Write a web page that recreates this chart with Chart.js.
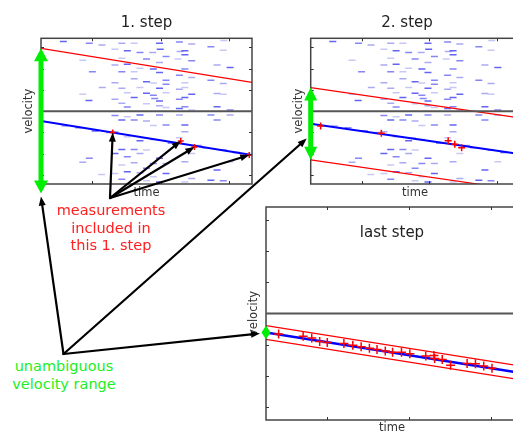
<!DOCTYPE html>
<html>
<head>
<meta charset="utf-8">
<script src="https://cdn.jsdelivr.net/npm/chart.js@4"></script>
<style>
    html, body { margin: 0; padding: 0; background: #fff; width: 513px; height: 432px; overflow: hidden; }
    body { position: relative; font-family: "DejaVu Sans", sans-serif; }
    canvas { position: absolute; }
    .note { position: absolute; text-align: center; font-size: 14.5px; line-height: 17.6px; white-space: nowrap; }
</style>
</head>
<body>
<canvas id="chartStep1" width="260" height="205" style="left:0px;top:0px"></canvas>
<canvas id="chartStep2" width="245" height="205" style="left:280px;top:0px"></canvas>
<canvas id="chartLast" width="280" height="240" style="left:244px;top:200px"></canvas>
<div class="note" style="left:31px;top:202px;width:160px;color:#ff2020">measurements<br>included in<br>this 1. step</div>
<div class="note" style="left:-16px;top:358px;width:160px;color:#22ee22">unambiguous<br>velocity range</div>
<canvas id="arrows" width="513" height="432" style="left:0px;top:0px;pointer-events:none"></canvas>
<script>
// ================================
// Data
// ================================
const T_MAX = 308;
const V_MAX = 3.43;
const timeTicks = [75, 175, 275];
const velTicks = [-3, -2, -1, 1, 2, 3];

// raw (folded) measurements: time / velocity
const measT = [
    32.6, 70.5, 89, 61, 75, 89.5, 61, 70,
    118, 136, 173, 202, 108, 126, 144.5, 163, 174, 182.5, 203,
    118, 154, 173, 200, 126, 108, 144.5, 164, 118, 136, 173, 202,
    136, 154, 182.5, 108, 164, 182.5, 118, 144.5, 173, 202,
    126, 154, 164, 182.5, 136, 166, 108, 173, 202, 118, 154, 126, 173, 182.5, 202,
    220, 267, 210, 248, 266, 210, 220, 257, 276, 210, 220, 210, 248, 266, 210,
    220, 257, 266, 210, 210, 220, 257, 276,
    35, 79, 70.5, 61, 88.6, 55, 100, 150, 190, 230, 240, 285,
    108, 126, 144.5, 173, 202, 118, 136, 154, 164, 182.5, 108, 126, 144.5, 164, 202,
    118, 136, 154, 108, 126, 144.5, 173, 164, 136, 118, 154, 182.5,
    108, 126, 144.5, 164, 182.5, 118, 154, 173,
    248, 276, 210, 257, 210, 220, 266, 210, 276, 257, 220, 210, 248, 266
];
const measV = [
    3.28, 3.20, 3.11, 2.40, 1.85, 1.11, 0.80, 0.50,
    3.20, 3.20, 3.20, 3.26, 2.92, 2.84, 2.76, 2.76, 2.92, 2.57, 2.81,
    2.49, 2.45, 2.29, 2.45, 2.21, 2.17, 2.02, 1.98, 1.86, 1.86, 1.82, 1.69,
    1.53, 1.39, 1.46, 1.34, 1.32, 1.27, 1.08, 1.11, 1.08, 1.03,
    0.87, 0.84, 0.75, 0.87, 0.64, 0.60, 0.56, 0.48, 0.56, 0.37, 0.35, 0.20, 0.25, 0.17, 0.12,
    3.16, 3.33, 2.84, 3.03, 2.87, 2.65, 2.37, 2.17, 2.05, 1.98, 1.58, 1.34, 1.46, 1.30, 1.11,
    0.80, 0.83, 0.80, 0.64, 0.21, 0.06, 0.21, 0.06,
    -0.70, -0.93, -2.22, -2.41, -2.98, -0.78, -1.00, -1.25, -1.50, -1.62, -1.75, -1.95,
    -0.21, -0.26, -0.18, -0.18, -0.18, -0.42, -0.42, -0.46, -0.68, -0.65, -0.97, -1.20, -1.39, -1.33, -1.25,
    -1.80, -1.80, -1.83, -1.99, -2.15, -1.99, -2.22, -2.46, -2.43, -2.54, -2.69, -2.46,
    -2.93, -2.85, -2.90, -3.09, -2.93, -3.21, -3.28, -3.33,
    -0.18, -0.18, -0.65, -0.42, -0.97, -1.99, -1.83, -2.38, -2.38, -2.77, -3.17, -3.33, -3.25, -3.28
];

// measurements picked up (unfolded) in each step
const step1T = [104.7, 204, 224, 304];
const step1V = [-1.01, -1.40, -1.69, -2.07];
const step2T = [14.6, 104.2, 202.8, 212.5, 222.7];
const step2V = [-0.70, -1.04, -1.39, -1.56, -1.72];
const lastT = [15.4, 45.4, 55.9, 65.6, 74.9, 95.2, 106.1, 116.3, 126.4, 135.7, 145.8, 154.7,
    165.6, 175.8, 195.2, 205.3, 206.1, 215.4, 225.6, 245.8, 256, 266.1, 276.2];
const lastV = [-0.66, -0.73, -0.79, -0.90, -0.93, -0.97, -1.02, -1.07, -1.12, -1.16, -1.21, -1.25,
    -1.25, -1.30, -1.37, -1.35, -1.45, -1.48, -1.67, -1.61, -1.62, -1.69, -1.76];

// fitted velocity line per step (at t=0 and t=T_MAX) and half of the window
const fitStart = [-0.46, -0.59, -0.61];
const fitEnd = [-2.07, -2.02, -1.90];
const halfWindow = [3.42, 1.70, 0.22];

// ================================
// Styles
// ================================
Chart.defaults.font.family = '"DejaVu Sans", sans-serif';
const dashShades = ['#6464f2', '#8686f4', '#aaaaf2', '#c8c8f4'];
const green = '#00ee00';

const pts = (ts, vs) => ts.map((t, i) => ({ x: t, y: vs[i] }));
const seg = (a, b) => [{ x: 0, y: a }, { x: T_MAX, y: b }];

// frame, zero line and inward ticks
const framePlugin = {
    id: 'frame',
    afterDatasetsDraw(chart) {
        const { ctx, chartArea: a, scales: { x, y } } = chart;
        ctx.save();
        ctx.strokeStyle = '#444';
        ctx.lineWidth = 1.5;
        ctx.strokeRect(a.left, a.top, a.right - a.left, a.bottom - a.top);
        const y0 = y.getPixelForValue(0);
        ctx.strokeStyle = '#555';
        ctx.lineWidth = 2;
        ctx.beginPath(); ctx.moveTo(a.left, y0); ctx.lineTo(a.right, y0); ctx.stroke();
        ctx.strokeStyle = '#333';
        ctx.lineWidth = 1;
        ctx.beginPath();
        timeTicks.forEach(t => {
            const px = Math.round(x.getPixelForValue(t)) + 0.5;
            ctx.moveTo(px, a.top); ctx.lineTo(px, a.top + 3);
            ctx.moveTo(px, a.bottom); ctx.lineTo(px, a.bottom - 3);
        });
        velTicks.forEach(v => {
            const py = Math.round(y.getPixelForValue(v)) + 0.5;
            ctx.moveTo(a.left, py); ctx.lineTo(a.left + 3, py);
            ctx.moveTo(a.right, py); ctx.lineTo(a.right - 3, py);
        });
        ctx.stroke();
        ctx.restore();
    }
};

// green double arrow = unambiguous velocity range at t=0
const rangePlugin = {
    id: 'range',
    afterDatasetsDraw(chart, args, opts) {
        const { ctx, scales: { x, y } } = chart;
        const s = opts.step;
        const px = x.getPixelForValue(0);
        const yTop = y.getPixelForValue(fitStart[s] + halfWindow[s]);
        const yBot = y.getPixelForValue(fitStart[s] - halfWindow[s]);
        const head = Math.min(13, (yBot - yTop) / 2);
        const hw = opts.headWidth;
        ctx.save();
        ctx.fillStyle = green;
        ctx.fillRect(px - 2.5, yTop + head - 1, 5, yBot - yTop - 2 * head + 2);
        ctx.beginPath();
        ctx.moveTo(px, yTop); ctx.lineTo(px + hw / 2, yTop + head); ctx.lineTo(px - hw / 2, yTop + head);
        ctx.closePath();
        ctx.moveTo(px, yBot); ctx.lineTo(px + hw / 2, yBot - head); ctx.lineTo(px - hw / 2, yBot - head);
        ctx.closePath();
        ctx.fill();
        ctx.restore();
    }
};

const innerTitlePlugin = {
    id: 'innerTitle',
    afterDraw(chart, args, opts) {
        if (!opts.text) return;
        const { ctx, chartArea: a } = chart;
        ctx.save();
        ctx.font = '15px "DejaVu Sans"';
        ctx.fillStyle = '#222';
        ctx.textAlign = 'center';
        ctx.textBaseline = 'middle';
        ctx.fillText(opts.text, (a.left + a.right) / 2, a.top + 26);
        ctx.restore();
    }
};

function makeChart(id, step, picked, cfg) {
    const datasets = [
        {
            data: picked,
            pointStyle: 'cross',
            pointRadius: cfg.crossR,
            borderColor: '#ff0000',
            borderWidth: 1.5
        },
        {
            data: seg(fitStart[step], fitEnd[step]),
            showLine: true, pointRadius: 0,
            borderColor: '#0000ff', borderWidth: cfg.blueW
        },
        {
            data: seg(fitStart[step] + halfWindow[step], fitEnd[step] + halfWindow[step]),
            showLine: true, pointRadius: 0,
            borderColor: '#ff0000', borderWidth: 1.2
        },
        {
            data: seg(fitStart[step] - halfWindow[step], fitEnd[step] - halfWindow[step]),
            showLine: true, pointRadius: 0,
            borderColor: '#ff0000', borderWidth: 1.2
        }
    ];
    if (cfg.showRaw) {
        datasets.push({
            data: pts(measT, measV),
            pointStyle: 'line',
            pointRadius: 3.5,
            borderWidth: 1.5,
            borderColor: ctx => dashShades[(ctx.dataIndex * 5 + (ctx.dataIndex >> 2)) % 4]
        });
    }
    return new Chart(document.getElementById(id), {
        type: 'scatter',
        data: { datasets },
        plugins: [framePlugin, rangePlugin, innerTitlePlugin],
        options: {
            responsive: false,
            animation: false,
            events: [],
            layout: { padding: cfg.padding },
            plugins: {
                legend: { display: false },
                tooltip: { enabled: false },
                title: {
                    display: !!cfg.title,
                    text: cfg.title,
                    fullSize: cfg.titleFull,
                    color: '#222',
                    font: { size: 15, weight: 'normal', lineHeight: 1.2 },
                    padding: { top: 0, bottom: 6.3 }
                },
                range: { step, headWidth: cfg.headW },
                innerTitle: { text: cfg.inner }
            },
            scales: {
                x: {
                    type: 'linear', min: 0, max: T_MAX,
                    grid: { display: false }, border: { display: false },
                    ticks: { display: false },
                    title: { display: true, text: 'time', color: '#333', font: { size: 11.5, lineHeight: 1.2 }, padding: 0 },
                    afterFit: s => { s.height = cfg.xH; }
                },
                y: {
                    type: 'linear', min: -V_MAX, max: V_MAX,
                    grid: { display: false }, border: { display: false },
                    ticks: { display: false },
                    title: { display: true, text: 'velocity', color: '#333', font: { size: 11.5, lineHeight: 1.2 }, padding: 0 },
                    afterFit: s => { s.width = cfg.yW; }
                }
            }
        }
    });
}

const chart1 = makeChart('chartStep1', 0, pts(step1T, step1V), {
    showRaw: true, crossR: 3, blueW: 2, headW: 14,
    title: '1. step', titleFull: false,
    padding: { left: 22, right: 8, top: 14, bottom: 5.1 }, yW: 19, xH: 15.9
});
const chart2 = makeChart('chartStep2', 1, pts(step2T, step2V), {
    showRaw: true, crossR: 3.5, blueW: 2, headW: 13,
    title: '2. step', titleFull: true,
    padding: { left: 12.1, right: 3, top: 14, bottom: 5.1 }, yW: 18.6, xH: 15.9
});
const chart3 = makeChart('chartLast', 2, pts(lastT, lastV), {
    showRaw: false, crossR: 4.5, blueW: 2.5, headW: 9,
    title: '', titleFull: false, inner: 'last step',
    padding: { left: 3.6, right: 4.5, top: 7, bottom: 5.1 }, yW: 18.4, xH: 14.9
});

// ================================
// Annotation arrows (page overlay)
// ================================
const page = (chart, t, v) => ({
    x: chart.canvas.offsetLeft + chart.scales.x.getPixelForValue(t),
    y: chart.canvas.offsetTop + chart.scales.y.getPixelForValue(v)
});

const actx = document.getElementById('arrows').getContext('2d');
function arrow(x0, y0, x1, y1) {
    const ang = Math.atan2(y1 - y0, x1 - x0);
    const len = 9, w = 3.5;
    const bx = x1 - len * Math.cos(ang), by = y1 - len * Math.sin(ang);
    actx.beginPath();
    actx.moveTo(x0, y0); actx.lineTo(bx, by);
    actx.stroke();
    actx.beginPath();
    actx.moveTo(x1, y1);
    actx.lineTo(bx + w * Math.sin(ang), by - w * Math.cos(ang));
    actx.lineTo(bx - w * Math.sin(ang), by + w * Math.cos(ang));
    actx.closePath();
    actx.fill();
}
actx.strokeStyle = '#000';
actx.fillStyle = '#000';
actx.lineWidth = 2.2;
actx.lineCap = 'round';

const measOrigin = { x: 110, y: 198 };
step1T.forEach((t, i) => {
    const p = page(chart1, t, step1V[i]);
    arrow(measOrigin.x, measOrigin.y, p.x, p.y);
});

const rangeOrigin = { x: 63.5, y: 354 };
const r1 = page(chart1, 0, fitStart[0] - halfWindow[0]);
arrow(rangeOrigin.x, rangeOrigin.y, r1.x, r1.y + 3);
const r2 = page(chart2, 0, fitStart[1] - 0.7);
arrow(rangeOrigin.x, rangeOrigin.y, r2.x - 4, r2.y);
const r3 = page(chart3, 0, fitStart[2]);
arrow(rangeOrigin.x, rangeOrigin.y, r3.x - 6, r3.y + 1);
</script>
</body>
</html>
